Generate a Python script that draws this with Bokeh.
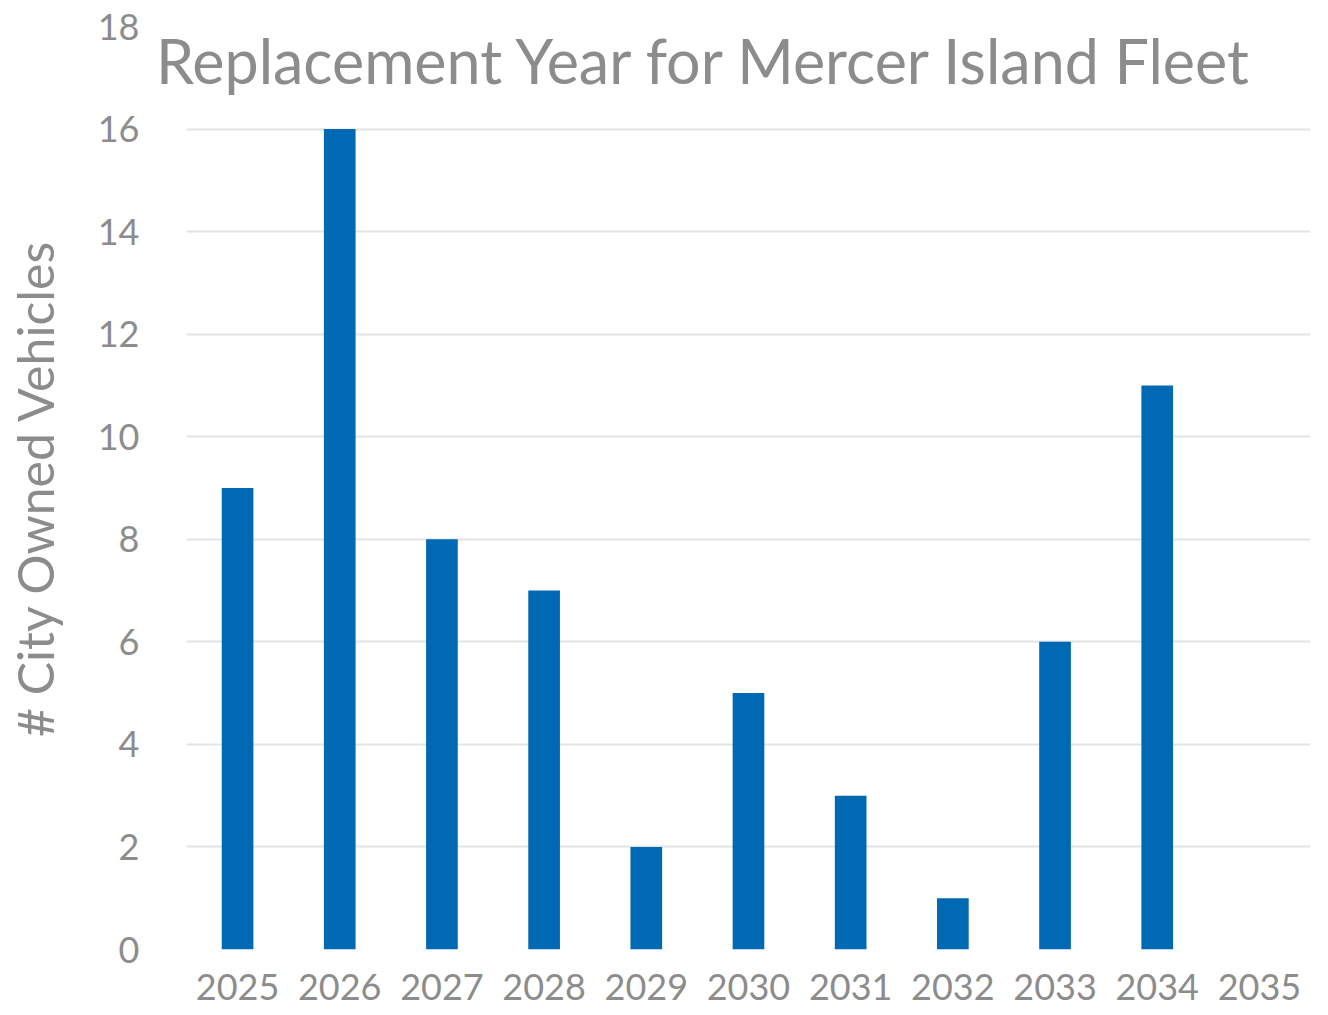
from bokeh.plotting import figure
from bokeh.models import Label, Range1d, FixedTicker, SingleIntervalTicker
from bokeh.embed import file_html
from bokeh.resources import INLINE

years = ["2025", "2026", "2027", "2028", "2029", "2030", "2031", "2032", "2033", "2034", "2035"]
vehicles = [9, 16, 8, 7, 2, 5, 3, 1, 6, 11, 0]
title_text = "Replacement Year for Mercer Island Fleet"
y_label = "# City Owned Vehicles"

GRAY = "#8c8c8c"
FONT = "Lato"

xpos = list(range(len(years)))

p = figure(x_range=Range1d(-0.852, 10.5), y_range=Range1d(0, 18),
           width=1320, height=1007, output_backend="svg", toolbar_location=None,
           min_border_left=150, min_border_right=10, min_border_top=26, min_border_bottom=58)

p.vbar(x=xpos, top=vehicles, width=0.31, color="#0069B4", line_color=None)

p.outline_line_color = None
p.xgrid.grid_line_color = None
p.ygrid.grid_line_color = "#e3e3e3"
p.ygrid.grid_line_width = 2
p.ygrid.cross_bounds = (-0.5, 10.5)

p.yaxis.ticker = SingleIntervalTicker(interval=2)
p.yaxis.axis_line_color = None
p.yaxis.major_tick_line_color = None
p.yaxis.minor_tick_line_color = None
p.yaxis.major_label_text_font = FONT
p.yaxis.major_label_text_font_size = "36px"
p.yaxis.major_label_text_color = GRAY
p.yaxis.major_label_standoff = 5
p.yaxis.axis_label = y_label
p.yaxis.axis_label_text_font = FONT
p.yaxis.axis_label_text_font_size = "50px"
p.yaxis.axis_label_text_font_style = "normal"
p.yaxis.axis_label_text_color = GRAY
p.yaxis.axis_label_standoff = 30

p.xaxis.ticker = FixedTicker(ticks=xpos)
p.xaxis.major_label_overrides = {i: y for i, y in zip(xpos, years)}
p.xaxis.axis_line_color = None
p.xaxis.major_tick_line_color = None
p.xaxis.minor_tick_line_color = None
p.xaxis.major_label_text_font = FONT
p.xaxis.major_label_text_font_size = "36px"
p.xaxis.major_label_text_color = GRAY
p.xaxis.major_label_standoff = 18

p.add_layout(Label(x=4.58, y=17.33, text=title_text, text_font=FONT, text_font_size="61px",
                   text_color=GRAY, text_align="center", text_baseline="alphabetic"))

open("out.html", "w").write(file_html(p, INLINE))
